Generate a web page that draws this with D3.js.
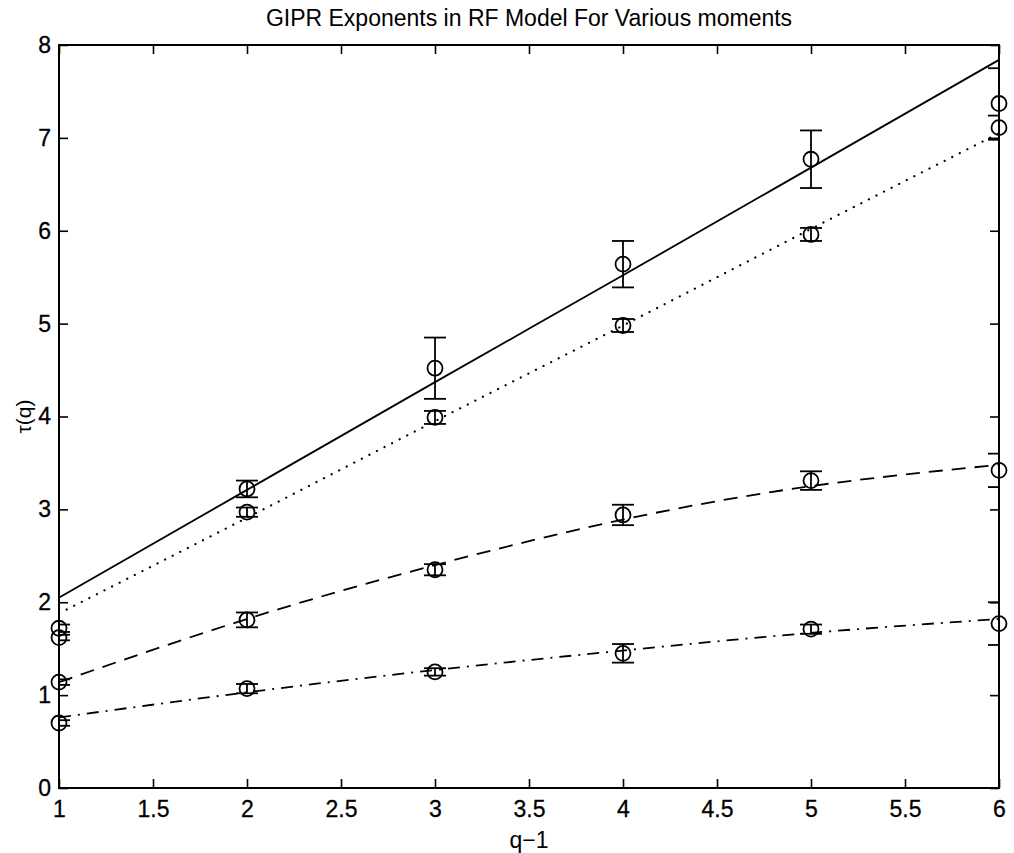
<!DOCTYPE html>
<html>
<head>
<meta charset="utf-8">
<script src="https://cdn.jsdelivr.net/npm/d3@7"></script>
<style>
  html, body { margin: 0; padding: 0; background: #fff; }
  svg { display: block; }
  text { font-family: "Liberation Sans", Arial, Helvetica, sans-serif; fill: #000; }
</style>
</head>
<body>
<svg id="chart" width="1014" height="853"></svg>
<script>
// ---------- data ----------
const qValues = [1, 2, 3, 4, 5, 6];

// measured exponents (circles) and error half-widths
const solidPoints  = [1.72, 3.22, 4.52, 5.64, 6.77, 7.37];
const solidErr     = [0.04, 0.09, 0.33, 0.25, 0.31, 0.38];
const dottedPoints = [1.62, 2.97, 3.99, 4.98, 5.96, 7.11];
const dottedErr    = [0.03, 0.05, 0.07, 0.07, 0.07, 0.13];
const dashedPoints = [1.14, 1.81, 2.35, 2.94, 3.31, 3.42];
const dashedErr    = [0.03, 0.08, 0.06, 0.11, 0.10, 0.18];
const dashDotPoints = [0.70, 1.07, 1.25, 1.45, 1.71, 1.77];
const dashDotErr    = [0.03, 0.05, 0.04, 0.10, 0.05, 0.23];

// fitted curves read at q-1 = 1..6
const solidFit   = [2.05, 3.21, 4.37, 5.52, 6.68, 7.84];
const dottedFit  = [1.88, 2.91, 3.95, 4.98, 6.02, 7.05];
const dashedFit  = [1.14, 1.82, 2.40, 2.89, 3.25, 3.48];
const dashDotFit = [0.76, 1.03, 1.27, 1.48, 1.67, 1.82];

const xTicks = [1, 1.5, 2, 2.5, 3, 3.5, 4, 4.5, 5, 5.5, 6];
const yTicks = [0, 1, 2, 3, 4, 5, 6, 7, 8];

const titleText = "GIPR Exponents in RF Model For Various moments";
const xLabel = "q\u22121";
const yLabel = "\u03c4(q)";

// ---------- layout ----------
const svg = d3.select("#chart");
const pL = 59, pR = 999, pT = 45, pB = 788;
const x = d3.scaleLinear().domain([1, 6]).range([pL, pR]);
const y = d3.scaleLinear().domain([0, 8]).range([pB, pT]);

svg.append("defs").append("clipPath").attr("id", "plotclip")
  .append("rect").attr("x", pL).attr("y", pT)
  .attr("width", pR - pL).attr("height", pB - pT);

// axes (ticks inward, mirrored)
const tickLen = 9;
const axisFont = "23px";
const gBottom = svg.append("g").attr("transform", `translate(0,${pB})`)
  .call(d3.axisBottom(x).tickValues(xTicks).tickSize(-tickLen).tickPadding(13)
        .tickFormat(d3.format("")));
const gTop = svg.append("g").attr("transform", `translate(0,${pT})`)
  .call(d3.axisTop(x).tickValues(xTicks).tickSize(-tickLen).tickFormat(""));
const gLeft = svg.append("g").attr("transform", `translate(${pL},0)`)
  .call(d3.axisLeft(y).tickValues(yTicks).tickSize(-tickLen).tickPadding(8)
        .tickFormat(d3.format("d")));
const gRight = svg.append("g").attr("transform", `translate(${pR},0)`)
  .call(d3.axisRight(y).tickValues(yTicks).tickSize(-tickLen).tickFormat(""));

[gBottom, gTop, gLeft, gRight].forEach(g => {
  g.select(".domain").remove();
  g.selectAll(".tick line").attr("stroke", "#000").attr("stroke-width", 1.6);
  g.selectAll(".tick text").style("font-size", axisFont)
    .style("font-family", "'Liberation Sans', Arial, sans-serif").attr("fill", "#000")
    .attr("stroke", "#000").attr("stroke-width", 0.3);
});

svg.append("rect").attr("x", pL).attr("y", pT)
  .attr("width", pR - pL).attr("height", pB - pT)
  .attr("fill", "none").attr("stroke", "#000").attr("stroke-width", 2);

// ---------- series ----------
const series = [
  { pts: solidPoints,   err: solidErr,   fit: solidFit,   dash: null,       w: 1.8, cap: "butt" },
  { pts: dottedPoints,  err: dottedErr,  fit: dottedFit,  dash: "0.1,8.4",  w: 2.2, cap: "round" },
  { pts: dashedPoints,  err: dashedErr,  fit: dashedFit,  dash: "14,9",     w: 1.8, cap: "butt" },
  { pts: dashDotPoints, err: dashDotErr, fit: dashDotFit, dash: "12,7,2,7", w: 1.8, cap: "butt" }
];

const line = d3.line().x((d, i) => x(qValues[i])).y(d => y(d)).curve(d3.curveNatural);
const plot = svg.append("g").attr("clip-path", "url(#plotclip)");
const capW = 11;

series.forEach(s => {
  plot.append("path").datum(s.fit)
    .attr("d", line)
    .attr("fill", "none").attr("stroke", "#000")
    .attr("stroke-width", s.w)
    .attr("stroke-linecap", s.cap)
    .attr("stroke-dasharray", s.dash);

  const eb = plot.append("g").attr("stroke", "#000").attr("stroke-width", 1.8);
  s.pts.forEach((v, i) => {
    const cx = x(qValues[i]);
    const y1 = y(v + s.err[i]), y0 = y(v - s.err[i]);
    eb.append("line").attr("x1", cx).attr("x2", cx).attr("y1", y1).attr("y2", y0);
    eb.append("line").attr("x1", cx - capW).attr("x2", cx + capW).attr("y1", y1).attr("y2", y1);
    eb.append("line").attr("x1", cx - capW).attr("x2", cx + capW).attr("y1", y0).attr("y2", y0);
  });

  svg.append("g").selectAll("circle").data(s.pts).join("circle")
    .attr("cx", (d, i) => x(qValues[i])).attr("cy", d => y(d)).attr("r", 7.5)
    .attr("fill", "none").attr("stroke", "#000").attr("stroke-width", 1.8);
});

// ---------- labels ----------
svg.append("text").attr("x", (pL + pR) / 2).attr("y", 26)
  .attr("text-anchor", "middle").style("font-size", "23px").text(titleText);
svg.append("text").attr("x", (pL + pR) / 2).attr("y", 848)
  .attr("text-anchor", "middle").style("font-size", "23px").text(xLabel);
svg.append("text").attr("transform", `translate(31,${(pT + pB) / 2}) rotate(-90)`)
  .attr("text-anchor", "middle").style("font-size", "21px").text(yLabel);
</script>
</body>
</html>
